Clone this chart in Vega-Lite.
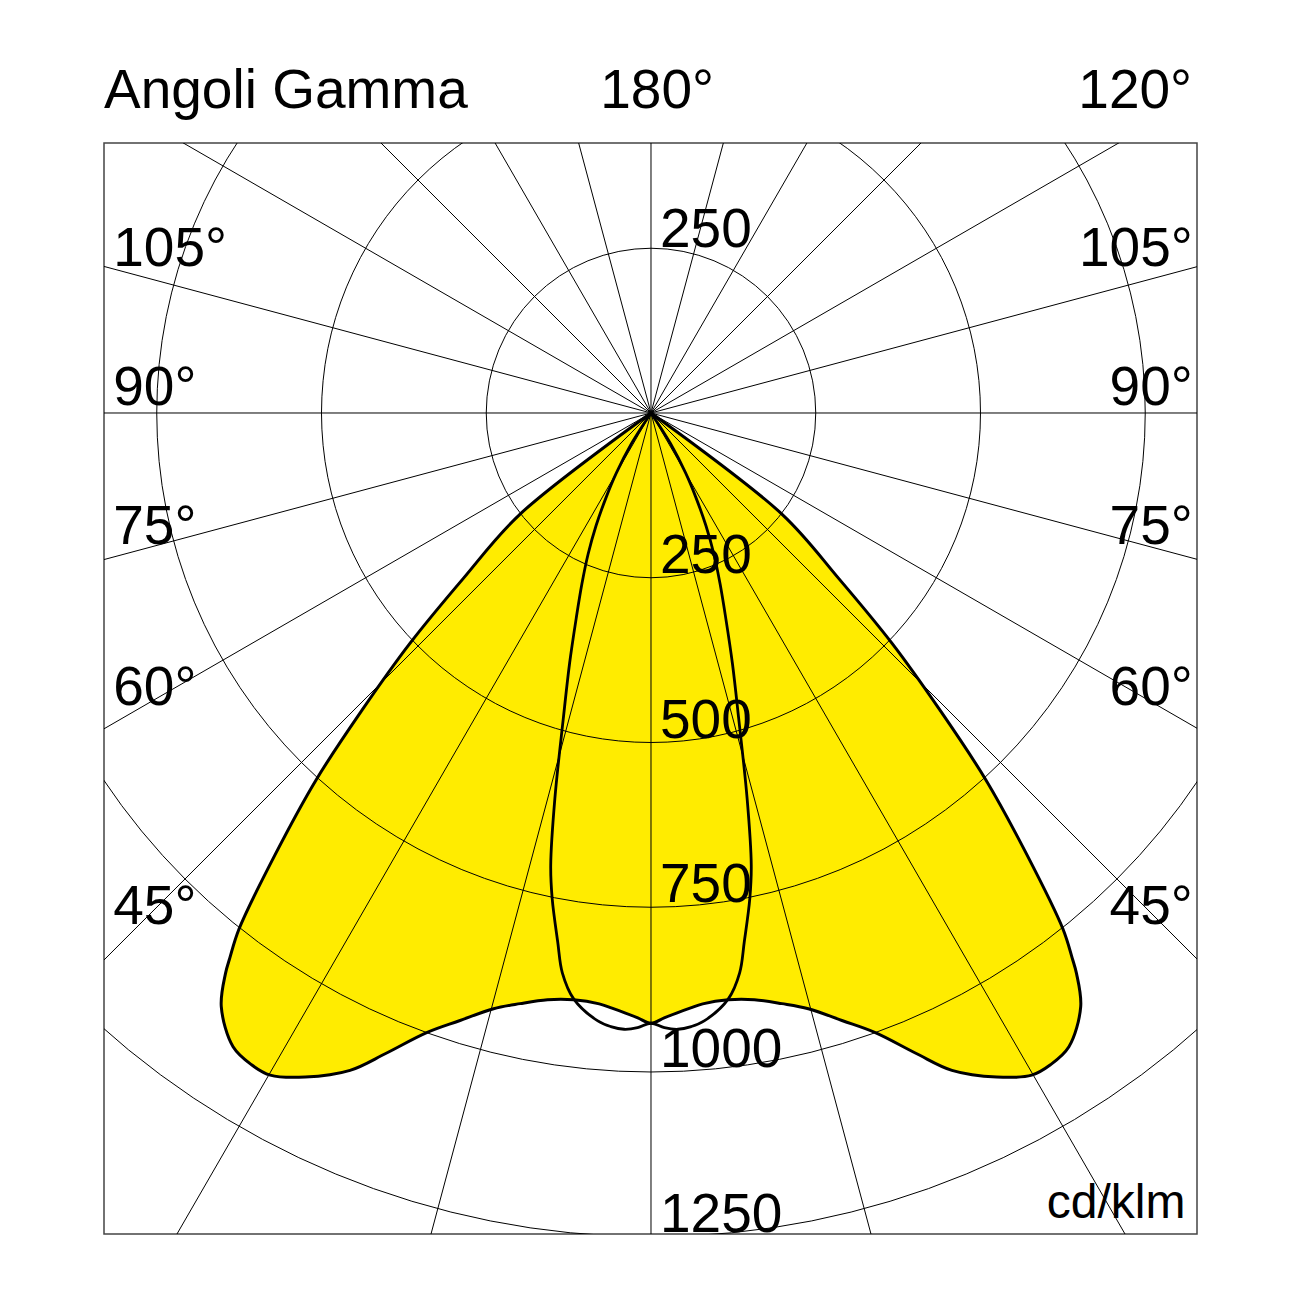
{
  "$schema": "https://vega.github.io/schema/vega-lite/v6.json",
  "width": 1093,
  "height": 1091,
  "autosize": {"type": "none"},
  "padding": {"left": 104, "top": 143, "right": 105, "bottom": 68},
  "background": "white",
  "config": {
    "view": {"stroke": "#444444", "strokeWidth": 1.5},
    "text": {"font": "Liberation Sans", "fontSize": 55, "color": "black"}
  },
  "datasets": {
    "curves": [
      {"plane": "C0-180", "gamma": -52.5, "I": 0},
      {"plane": "C0-180", "gamma": -52.3, "I": 252},
      {"plane": "C0-180", "gamma": -48.6, "I": 380},
      {"plane": "C0-180", "gamma": -46.3, "I": 506},
      {"plane": "C0-180", "gamma": -44.2, "I": 629},
      {"plane": "C0-180", "gamma": -42.4, "I": 753},
      {"plane": "C0-180", "gamma": -40.4, "I": 880},
      {"plane": "C0-180", "gamma": -38.6, "I": 1002},
      {"plane": "C0-180", "gamma": -37.7, "I": 1045},
      {"plane": "C0-180", "gamma": -37.2, "I": 1068},
      {"plane": "C0-180", "gamma": -35.9, "I": 1112},
      {"plane": "C0-180", "gamma": -33.4, "I": 1152},
      {"plane": "C0-180", "gamma": -31.5, "I": 1160},
      {"plane": "C0-180", "gamma": -29.9, "I": 1159},
      {"plane": "C0-180", "gamma": -27.5, "I": 1136},
      {"plane": "C0-180", "gamma": -24.6, "I": 1097},
      {"plane": "C0-180", "gamma": -22.5, "I": 1052},
      {"plane": "C0-180", "gamma": -19.9, "I": 1000},
      {"plane": "C0-180", "gamma": -17.5, "I": 967},
      {"plane": "C0-180", "gamma": -14.8, "I": 935},
      {"plane": "C0-180", "gamma": -12.5, "I": 918},
      {"plane": "C0-180", "gamma": -10, "I": 904},
      {"plane": "C0-180", "gamma": -7.5, "I": 898},
      {"plane": "C0-180", "gamma": -5, "I": 900},
      {"plane": "C0-180", "gamma": -3.75, "I": 905},
      {"plane": "C0-180", "gamma": -2.5, "I": 911},
      {"plane": "C0-180", "gamma": -1.25, "I": 918},
      {"plane": "C0-180", "gamma": 0, "I": 926},
      {"plane": "C0-180", "gamma": 1.25, "I": 918},
      {"plane": "C0-180", "gamma": 2.5, "I": 911},
      {"plane": "C0-180", "gamma": 3.75, "I": 905},
      {"plane": "C0-180", "gamma": 5, "I": 900},
      {"plane": "C0-180", "gamma": 7.5, "I": 898},
      {"plane": "C0-180", "gamma": 10, "I": 904},
      {"plane": "C0-180", "gamma": 12.5, "I": 918},
      {"plane": "C0-180", "gamma": 14.8, "I": 935},
      {"plane": "C0-180", "gamma": 17.5, "I": 967},
      {"plane": "C0-180", "gamma": 19.9, "I": 1000},
      {"plane": "C0-180", "gamma": 22.5, "I": 1052},
      {"plane": "C0-180", "gamma": 24.6, "I": 1097},
      {"plane": "C0-180", "gamma": 27.5, "I": 1136},
      {"plane": "C0-180", "gamma": 29.9, "I": 1159},
      {"plane": "C0-180", "gamma": 31.5, "I": 1160},
      {"plane": "C0-180", "gamma": 33.4, "I": 1152},
      {"plane": "C0-180", "gamma": 35.9, "I": 1112},
      {"plane": "C0-180", "gamma": 37.2, "I": 1068},
      {"plane": "C0-180", "gamma": 37.7, "I": 1045},
      {"plane": "C0-180", "gamma": 38.6, "I": 1002},
      {"plane": "C0-180", "gamma": 40.4, "I": 880},
      {"plane": "C0-180", "gamma": 42.4, "I": 753},
      {"plane": "C0-180", "gamma": 44.2, "I": 629},
      {"plane": "C0-180", "gamma": 46.3, "I": 506},
      {"plane": "C0-180", "gamma": 48.6, "I": 380},
      {"plane": "C0-180", "gamma": 52.3, "I": 252},
      {"plane": "C0-180", "gamma": 52.5, "I": 0},
      {"plane": "C90-270", "gamma": -35, "I": 0},
      {"plane": "C90-270", "gamma": -32.5, "I": 55},
      {"plane": "C90-270", "gamma": -30, "I": 105},
      {"plane": "C90-270", "gamma": -28, "I": 145},
      {"plane": "C90-270", "gamma": -26, "I": 190},
      {"plane": "C90-270", "gamma": -24, "I": 235},
      {"plane": "C90-270", "gamma": -22, "I": 280},
      {"plane": "C90-270", "gamma": -20, "I": 332},
      {"plane": "C90-270", "gamma": -18, "I": 400},
      {"plane": "C90-270", "gamma": -16, "I": 483},
      {"plane": "C90-270", "gamma": -14, "I": 603},
      {"plane": "C90-270", "gamma": -12.5, "I": 703},
      {"plane": "C90-270", "gamma": -11.5, "I": 752},
      {"plane": "C90-270", "gamma": -10, "I": 815},
      {"plane": "C90-270", "gamma": -9, "I": 860},
      {"plane": "C90-270", "gamma": -7.5, "I": 897},
      {"plane": "C90-270", "gamma": -5, "I": 926},
      {"plane": "C90-270", "gamma": -3.75, "I": 933},
      {"plane": "C90-270", "gamma": -2.5, "I": 936},
      {"plane": "C90-270", "gamma": -1.25, "I": 933},
      {"plane": "C90-270", "gamma": 0, "I": 926},
      {"plane": "C90-270", "gamma": 1.25, "I": 933},
      {"plane": "C90-270", "gamma": 2.5, "I": 936},
      {"plane": "C90-270", "gamma": 3.75, "I": 933},
      {"plane": "C90-270", "gamma": 5, "I": 926},
      {"plane": "C90-270", "gamma": 7.5, "I": 897},
      {"plane": "C90-270", "gamma": 9, "I": 860},
      {"plane": "C90-270", "gamma": 10, "I": 815},
      {"plane": "C90-270", "gamma": 11.5, "I": 752},
      {"plane": "C90-270", "gamma": 12.5, "I": 703},
      {"plane": "C90-270", "gamma": 14, "I": 603},
      {"plane": "C90-270", "gamma": 16, "I": 483},
      {"plane": "C90-270", "gamma": 18, "I": 400},
      {"plane": "C90-270", "gamma": 20, "I": 332},
      {"plane": "C90-270", "gamma": 22, "I": 280},
      {"plane": "C90-270", "gamma": 24, "I": 235},
      {"plane": "C90-270", "gamma": 26, "I": 190},
      {"plane": "C90-270", "gamma": 28, "I": 145},
      {"plane": "C90-270", "gamma": 30, "I": 105},
      {"plane": "C90-270", "gamma": 32.5, "I": 55},
      {"plane": "C90-270", "gamma": 35, "I": 0}
    ],
    "rings": [{"R": 250}, {"R": 500}, {"R": 750}, {"R": 1000}, {"R": 1250}],
    "rays": [
      {"angle": 0}, {"angle": 15}, {"angle": 30}, {"angle": 45}, {"angle": 60}, {"angle": 75},
      {"angle": 90}, {"angle": 105}, {"angle": 120}, {"angle": 135}, {"angle": 150}, {"angle": 165},
      {"angle": 180}, {"angle": 195}, {"angle": 210}, {"angle": 225}, {"angle": 240}, {"angle": 255},
      {"angle": 270}, {"angle": 285}, {"angle": 300}, {"angle": 315}, {"angle": 330}, {"angle": 345}
    ],
    "angleLabels": [{"gamma": 105}, {"gamma": 90}, {"gamma": 75}, {"gamma": 60}, {"gamma": 45}],
    "ringLabels": [{"R": 250}, {"R": 500}, {"R": 750}, {"R": 1000}, {"R": 1250}]
  },
  "layer": [
    {
      "data": {"name": "curves"},
      "transform": [
        {"filter": "datum.plane === 'C0-180'"},
        {"calculate": "datum.I * sin(datum.gamma * PI / 180)", "as": "x"},
        {"calculate": "-datum.I * cos(datum.gamma * PI / 180)", "as": "y"}
      ],
      "mark": {"type": "line", "interpolate": "catmull-rom", "fill": "#ffec00", "strokeWidth": 0, "strokeOpacity": 0},
      "encoding": {
        "x": {"field": "x", "type": "quantitative", "scale": {"type": "linear", "domain": [-830, 828.5], "nice": false, "zero": false}, "axis": null},
        "y": {"field": "y", "type": "quantitative", "scale": {"type": "linear", "domain": [-1245.8, 409.7], "nice": false, "zero": false}, "axis": null},
        "order": {"field": "gamma", "type": "quantitative"}
      }
    },
    {
      "data": {"name": "rings"},
      "transform": [
        {"calculate": "pow(2 * datum.R * 0.659, 2)", "as": "s"},
        {"calculate": "0", "as": "cx"},
        {"calculate": "0", "as": "cy"}
      ],
      "mark": {"type": "point", "shape": "circle", "filled": false, "stroke": "black", "strokeWidth": 1, "opacity": 1, "clip": true},
      "encoding": {
        "x": {"field": "cx", "type": "quantitative", "scale": {"type": "linear", "domain": [-830, 828.5], "nice": false, "zero": false}, "axis": null},
        "y": {"field": "cy", "type": "quantitative", "scale": {"type": "linear", "domain": [-1245.8, 409.7], "nice": false, "zero": false}, "axis": null},
        "size": {"field": "s", "type": "quantitative", "scale": null}
      }
    },
    {
      "data": {"name": "rays"},
      "transform": [
        {"calculate": "0", "as": "ox"},
        {"calculate": "0", "as": "oy"},
        {"calculate": "2500 * sin(datum.angle * PI / 180)", "as": "ex"},
        {"calculate": "-2500 * cos(datum.angle * PI / 180)", "as": "ey"}
      ],
      "mark": {"type": "rule", "color": "black", "strokeWidth": 1, "clip": true},
      "encoding": {
        "x": {"field": "ox", "type": "quantitative", "scale": {"type": "linear", "domain": [-830, 828.5], "nice": false, "zero": false}, "axis": null},
        "y": {"field": "oy", "type": "quantitative", "scale": {"type": "linear", "domain": [-1245.8, 409.7], "nice": false, "zero": false}, "axis": null},
        "x2": {"field": "ex"},
        "y2": {"field": "ey"}
      }
    },
    {
      "data": {"name": "curves"},
      "transform": [
        {"filter": "datum.plane === 'C0-180'"},
        {"calculate": "datum.I * sin(datum.gamma * PI / 180)", "as": "x"},
        {"calculate": "-datum.I * cos(datum.gamma * PI / 180)", "as": "y"}
      ],
      "mark": {"type": "line", "interpolate": "catmull-rom", "color": "black", "strokeWidth": 3},
      "encoding": {
        "x": {"field": "x", "type": "quantitative", "scale": {"type": "linear", "domain": [-830, 828.5], "nice": false, "zero": false}, "axis": null},
        "y": {"field": "y", "type": "quantitative", "scale": {"type": "linear", "domain": [-1245.8, 409.7], "nice": false, "zero": false}, "axis": null},
        "order": {"field": "gamma", "type": "quantitative"}
      }
    },
    {
      "data": {"name": "curves"},
      "transform": [
        {"filter": "datum.plane === 'C90-270'"},
        {"calculate": "datum.I * sin(datum.gamma * PI / 180)", "as": "x"},
        {"calculate": "-datum.I * cos(datum.gamma * PI / 180)", "as": "y"}
      ],
      "mark": {"type": "line", "interpolate": "catmull-rom", "color": "black", "strokeWidth": 2.8},
      "encoding": {
        "x": {"field": "x", "type": "quantitative", "scale": {"type": "linear", "domain": [-830, 828.5], "nice": false, "zero": false}, "axis": null},
        "y": {"field": "y", "type": "quantitative", "scale": {"type": "linear", "domain": [-1245.8, 409.7], "nice": false, "zero": false}, "axis": null},
        "order": {"field": "gamma", "type": "quantitative"}
      }
    },
    {
      "data": {"name": "angleLabels"},
      "transform": [
        {"calculate": "-787.6 * cos(datum.gamma * PI / 180) / sin(datum.gamma * PI / 180)", "as": "ly"},
        {"calculate": "-816", "as": "lx"},
        {"calculate": "datum.gamma + '°'", "as": "label"}
      ],
      "mark": {"type": "text", "align": "left", "baseline": "alphabetic", "dy": -8},
      "encoding": {
        "x": {"field": "lx", "type": "quantitative", "scale": {"type": "linear", "domain": [-830, 828.5], "nice": false, "zero": false}, "axis": null},
        "y": {"field": "ly", "type": "quantitative", "scale": {"type": "linear", "domain": [-1245.8, 409.7], "nice": false, "zero": false}, "axis": null},
        "text": {"field": "label", "type": "nominal"}
      }
    },
    {
      "data": {"name": "angleLabels"},
      "transform": [
        {"calculate": "-787.6 * cos(datum.gamma * PI / 180) / sin(datum.gamma * PI / 180)", "as": "ly"},
        {"calculate": "822", "as": "lx"},
        {"calculate": "datum.gamma + '°'", "as": "label"}
      ],
      "mark": {"type": "text", "align": "right", "baseline": "alphabetic", "dy": -8},
      "encoding": {
        "x": {"field": "lx", "type": "quantitative", "scale": {"type": "linear", "domain": [-830, 828.5], "nice": false, "zero": false}, "axis": null},
        "y": {"field": "ly", "type": "quantitative", "scale": {"type": "linear", "domain": [-1245.8, 409.7], "nice": false, "zero": false}, "axis": null},
        "text": {"field": "label", "type": "nominal"}
      }
    },
    {
      "data": {"name": "ringLabels"},
      "transform": [
        {"calculate": "-datum.R", "as": "ly"},
        {"calculate": "0", "as": "lx"},
        {"calculate": "'' + datum.R", "as": "label"}
      ],
      "mark": {"type": "text", "align": "left", "baseline": "alphabetic", "dx": 9, "dy": -5},
      "encoding": {
        "x": {"field": "lx", "type": "quantitative", "scale": {"type": "linear", "domain": [-830, 828.5], "nice": false, "zero": false}, "axis": null},
        "y": {"field": "ly", "type": "quantitative", "scale": {"type": "linear", "domain": [-1245.8, 409.7], "nice": false, "zero": false}, "axis": null},
        "text": {"field": "label", "type": "nominal"}
      }
    },
    {
      "data": {"values": [{"label": "250", "lx": 0, "ly": 250}]},
      "mark": {"type": "text", "align": "left", "baseline": "alphabetic", "dx": 9, "dy": -1},
      "encoding": {
        "x": {"field": "lx", "type": "quantitative", "scale": {"type": "linear", "domain": [-830, 828.5], "nice": false, "zero": false}, "axis": null},
        "y": {"field": "ly", "type": "quantitative", "scale": {"type": "linear", "domain": [-1245.8, 409.7], "nice": false, "zero": false}, "axis": null},
        "text": {"field": "label", "type": "nominal"}
      }
    },
    {
      "data": {"values": [
        {"label": "Angoli Gamma", "lx": -830, "ly": 462.8},
        {"label": "180°", "lx": -77, "ly": 462.8}
      ]},
      "mark": {"type": "text", "align": "left", "baseline": "alphabetic"},
      "encoding": {
        "x": {"field": "lx", "type": "quantitative", "scale": {"type": "linear", "domain": [-830, 828.5], "nice": false, "zero": false}, "axis": null},
        "y": {"field": "ly", "type": "quantitative", "scale": {"type": "linear", "domain": [-1245.8, 409.7], "nice": false, "zero": false}, "axis": null},
        "text": {"field": "label", "type": "nominal"}
      }
    },
    {
      "data": {"values": [{"label": "120°", "lx": 821, "ly": 462.8}]},
      "mark": {"type": "text", "align": "right", "baseline": "alphabetic"},
      "encoding": {
        "x": {"field": "lx", "type": "quantitative", "scale": {"type": "linear", "domain": [-830, 828.5], "nice": false, "zero": false}, "axis": null},
        "y": {"field": "ly", "type": "quantitative", "scale": {"type": "linear", "domain": [-1245.8, 409.7], "nice": false, "zero": false}, "axis": null},
        "text": {"field": "label", "type": "nominal"}
      }
    },
    {
      "data": {"values": [{"label": "cd/klm", "lx": 811, "ly": -1221.5}]},
      "mark": {"type": "text", "align": "right", "baseline": "alphabetic", "fontSize": 48},
      "encoding": {
        "x": {"field": "lx", "type": "quantitative", "scale": {"type": "linear", "domain": [-830, 828.5], "nice": false, "zero": false}, "axis": null},
        "y": {"field": "ly", "type": "quantitative", "scale": {"type": "linear", "domain": [-1245.8, 409.7], "nice": false, "zero": false}, "axis": null},
        "text": {"field": "label", "type": "nominal"}
      }
    }
  ]
}
